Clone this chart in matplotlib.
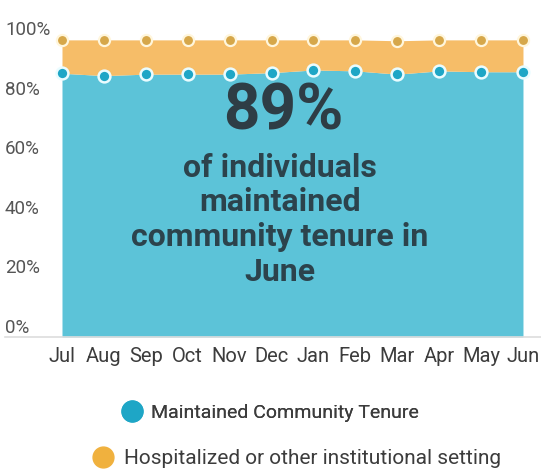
import matplotlib.pyplot as plt
from matplotlib.lines import Line2D
from matplotlib.transforms import blended_transform_factory

plt.rcParams['font.family'] = ['Roboto', 'DejaVu Sans']

months = ["Jul", "Aug", "Sep", "Oct", "Nov", "Dec",
          "Jan", "Feb", "Mar", "Apr", "May", "Jun"]
tenure = [88.5, 87.7, 88.2, 88.2, 88.2, 88.7, 89.6, 89.3, 88.2, 89.3, 89.0, 89.0]
hospitalized = [11.2, 12.0, 11.5, 11.5, 11.5, 11.0, 10.1, 10.4, 11.2, 10.4, 10.7, 10.7]
y_ticks = [0, 20, 40, 60, 80, 100]

teal_fill = "#5cc3d8"
teal_dot = "#1ea6c6"
gold_fill = "#f6bd68"
gold_dot = "#d6a74a"
ink = "#2c434c"

fig = plt.figure(figsize=(5.41, 4.71), dpi=100)
ax = fig.add_axes([5 / 541, 134 / 471, 536 / 541, 332 / 471])

x = list(range(len(months)))
stack_top = [t + h for t, h in zip(tenure, hospitalized)]

ax.fill_between(x, 0, tenure, color=teal_fill, linewidth=0)
ax.fill_between(x, tenure, stack_top, color=gold_fill, linewidth=0)
ax.plot(x, stack_top, "o", ms=8, color=gold_dot, mec="#fff6dc", mew=1.6, zorder=4)
ax.plot(x, tenure, "o", ms=8.5, color=teal_dot, mec="#eafcff", mew=1.8, zorder=4)

ax.set_xlim(-1.36, 11.43)
ax.set_ylim(0, 111.4)

for s in ["top", "right", "left"]:
    ax.spines[s].set_visible(False)
ax.spines["bottom"].set_color("#dddddd")
ax.spines["bottom"].set_linewidth(1.2)
ax.set_yticks([])
ax.set_xticks(x)
ax.set_xticklabels(months, fontsize=14.5, color="#3c3c3c")
ax.tick_params(axis="x", length=0, pad=7)

ytrans = blended_transform_factory(ax.transAxes, ax.transData)
for v in y_ticks:
    ax.text(0.0, v + 3, f"{v}%", transform=ytrans, ha="left", va="center",
            fontsize=13.5, color="#555555")

# headline figure and caption over the filled area
ax.text(5.27, 75.5, f"{round(tenure[-1])}%", ha="center", va="center",
        fontsize=46, fontweight="bold", color="#2e3d45")
ax.text(5.2, 39.3, "of individuals\nmaintained\ncommunity tenure in\nJune",
        ha="center", va="center", fontsize=23, fontweight="bold",
        color=ink, linespacing=1.2)

h1 = Line2D([], [], marker="o", ls="", ms=15, color=teal_dot)
h2 = Line2D([], [], marker="o", ls="", ms=15, color="#f0b13e")
leg1 = fig.legend([h1], ["Maintained Community Tenure"], loc="center",
                  bbox_to_anchor=(0.5, 1 - 413 / 471), frameon=False,
                  fontsize=14, handletextpad=0.5, handlelength=1.0)
for t in leg1.get_texts():
    t.set_color("#3c3c3c")
fig.add_artist(leg1)
leg2 = fig.legend([h2], ["Hospitalized or other institutional setting"], loc="center",
                  bbox_to_anchor=(0.548, 1 - 459 / 471), frameon=False,
                  fontsize=15, handletextpad=0.5, handlelength=1.0,
                  borderpad=0.2)
for t in leg2.get_texts():
    t.set_color("#3c3c3c")

fig.savefig("out.png", dpi=100, facecolor="white")
